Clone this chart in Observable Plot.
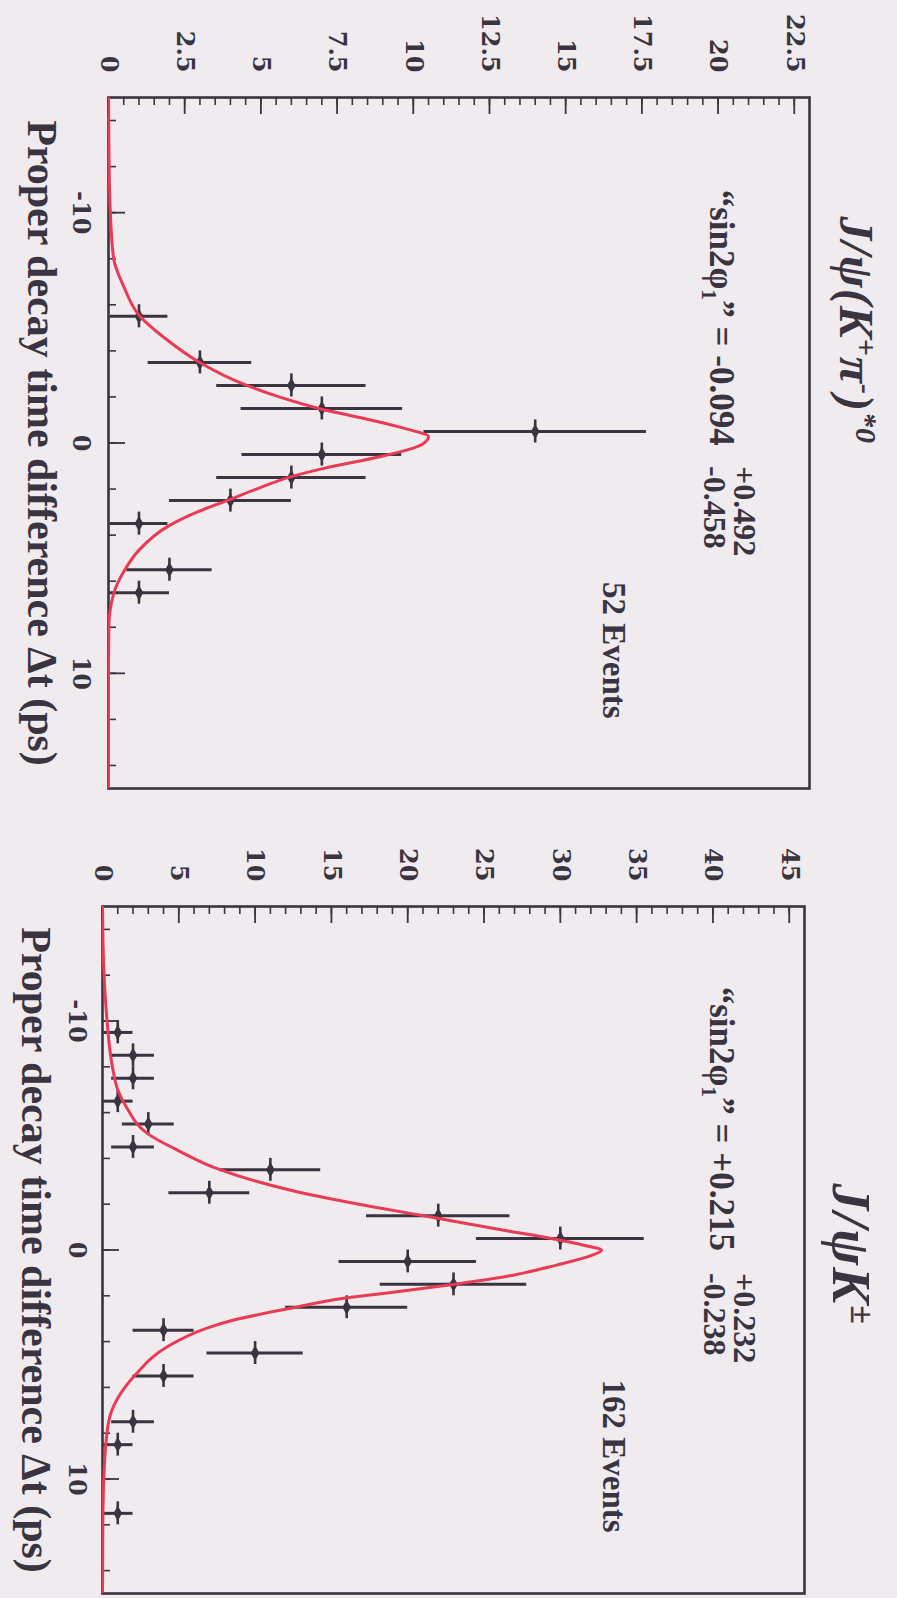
<!DOCTYPE html>
<html>
<head>
<meta charset="utf-8">
<script src="https://cdn.jsdelivr.net/npm/d3@7"></script>
<script src="https://cdn.jsdelivr.net/npm/@observablehq/plot@0.6"></script>
<style>
  html, body { margin: 0; padding: 0; background: #efebef; }
  #chart { width: 897px; height: 1598px; overflow: hidden; }
  #chart svg { display: block; }
</style>
</head>
<body>
<div id="chart"></div>
<script>
// ---------- Panel 1: J/psi (K+ pi-)*0 ----------
const dt1    = [-5.5, -3.5, -2.5, -1.5, -0.5, 0.5, 1.5, 2.5, 3.5, 5.5, 6.5];
const count1 = [1, 3, 6, 7, 14, 7, 6, 4, 1, 2, 1];
const err1   = [0.95, 1.7, 2.45, 2.65, 3.65, 2.62, 2.45, 2.0, 0.95, 1.4, 1.0];
const fitT1  = [-15, -12, -10, -8, -6.8, -5.57, -4.48, -3.53, -2.52, -2.0, -1.5, -1.0, -0.6, -0.28, 0.05, 0.3, 0.6, 1.09, 1.46, 2.0, 2.48, 3.0, 3.64, 4.65, 5.45, 6.54, 8, 10, 15];
const fitC1  = [0, 0.02, 0.06, 0.17, 0.5, 0.99, 1.92, 2.95, 4.5, 5.6, 6.9, 8.6, 9.8, 10.5, 10.3, 9.8, 8.9, 7.1, 6.0, 4.85, 3.93, 2.9, 1.92, 1.0, 0.56, 0.17, 0.01, 0, 0];
const yTicks1  = [0, 2.5, 5, 7.5, 10, 12.5, 15, 17.5, 20, 22.5];
const yLabels1 = ["0", "2.5", "5", "7.5", "10", "12.5", "15", "17.5", "20", "22.5"];

// ---------- Panel 2: J/psi K+- ----------
const dt2    = [-9.5, -8.5, -7.5, -6.5, -5.5, -4.5, -3.5, -2.5, -1.5, -0.5, 0.5, 1.5, 2.5, 3.5, 4.5, 5.5, 7.5, 8.5, 11.5];
const count2 = [1, 2, 2, 1, 3, 2, 11, 7, 22, 30, 20, 23, 16, 4, 10, 4, 2, 1, 1];
const err2   = [1.0, 1.4, 1.4, 1.0, 1.7, 1.4, 3.3, 2.65, 4.7, 5.5, 4.5, 4.8, 4.0, 2.0, 3.15, 2.0, 1.4, 1.0, 1.0];
const fitT2  = [-15, -13, -11.4, -10, -8, -7, -6.2, -5.06, -4.33, -3.53, -2.6, -1.9, -1.43, -0.86, -0.49, -0.2, 0, 0.25, 0.67, 1.1, 1.53, 1.9, 2.11, 2.51, 3.06, 3.42, 4.2, 5.45, 7.48, 9.7, 12, 15];
const fitC2  = [0, 0.05, 0.15, 0.3, 0.65, 1.0, 1.6, 3.0, 5.0, 7.6, 12.4, 17.6, 21.6, 26.3, 29.5, 31.6, 32.7, 32.0, 29.7, 26.9, 22.7, 18.4, 15.8, 12.6, 8.6, 6.8, 4.3, 2.16, 0.41, 0.1, 0.02, 0];
const yTicks2  = [0, 5, 10, 15, 20, 25, 30, 35, 40, 45];
const yLabels2 = ["0", "5", "10", "15", "20", "25", "30", "35", "40", "45"];

// ---------- shared ----------
const tTicks  = [-10, 0, 10];
const tLabels = ["-10", "0", "10"];
const xTitle  = "Proper decay time difference \u0394t (ps)";
const binHalfWidth = 0.5;

const ink = "#3a3340";
const red = "#ea3b55";
const serif = "'Liberation Serif', 'Times New Roman', serif";
const tickFont = "'DejaVu Serif', serif";

function rich(svg, key, parts, spacing) {
  d3.select(svg).selectAll("text").filter(function () { return this.textContent === key; })
    .each(function () {
      const el = d3.select(this);
      el.text("");
      if (spacing) el.attr("letter-spacing", spacing + "px");
      let prev = 0;
      for (const [s, shift, fs] of parts) {
        const sp = el.append("tspan").text(s).attr("dy", (shift - prev) + "px");
        if (fs) sp.attr("font-size", fs + "px");
        prev = shift;
      }
    });
}

function panel(cfg) {
  const rows = cfg.t.map((t, i) => ({t, n: cfg.n[i], e: cfg.err[i]}));
  const fit = cfg.fitT.map((t, i) => ({t, c: cfg.fitC[i]}));
  const W = 897, H = cfg.height;
  const fw = W - cfg.ml - cfg.mr, fh = H - cfg.mt - cfg.mb;
  const cMinor = d3.range(0, cfg.cmax - 1e-9, cfg.minorStep);
  const tMinor = d3.range(-14, 15, 2);
  const txt = {fill: ink, fontFamily: serif, fontWeight: "bold", rotate: 90, lineAnchor: "middle"};
  const svg = Plot.plot({
    width: W, height: H,
    marginTop: cfg.mt, marginBottom: cfg.mb, marginLeft: cfg.ml, marginRight: cfg.mr,
    style: {background: "transparent", overflow: "visible"},
    x: {domain: [0, cfg.cmax], axis: null},
    y: {domain: [-15, 15], reverse: true, axis: null},
    marks: [
      // inward tick marks
      Plot.ruleX(cMinor, {x: d => d, insetBottom: fh - 8, stroke: ink, strokeWidth: 1.6}),
      Plot.ruleX(cfg.yTicks, {x: d => d, insetBottom: fh - 17, stroke: ink, strokeWidth: 1.8}),
      Plot.ruleY(tMinor, {y: d => d, insetRight: fw - 8, stroke: ink, strokeWidth: 1.6}),
      Plot.ruleY(tTicks, {y: d => d, insetRight: fw - 17, stroke: ink, strokeWidth: 1.8}),
      Plot.frame({stroke: ink, strokeWidth: 2.6}),
      // tick labels
      Plot.text(cfg.yTicks, {x: d => d, text: (d, i) => cfg.yLabels[i], frameAnchor: "top", dy: -25,
        textAnchor: "end", ...txt, fontFamily: tickFont, fontSize: 24}),
      Plot.text(tTicks, {y: d => d, text: (d, i) => tLabels[i], frameAnchor: "left", dx: cfg.tLabelDx,
        textAnchor: "middle", ...txt, fontFamily: tickFont, fontSize: 24}),
      Plot.text([xTitle], {y: () => 0, text: d => d, frameAnchor: "left", dx: -67,
        textAnchor: "middle", ...txt, fontSize: 42}),
      // title and annotations
      Plot.text([cfg.title], {y: () => cfg.titleT, text: d => d, frameAnchor: "right", dx: 46,
        textAnchor: "middle", ...txt, fontSize: cfg.titleSize, fontStyle: "italic"}),
      Plot.text([cfg.ann], {y: () => cfg.annT, text: d => d, frameAnchor: "right", dx: cfg.annDx,
        textAnchor: "start", ...txt, fontSize: 35}),
      Plot.text([cfg.sup], {y: () => cfg.supT, text: d => d, frameAnchor: "right", dx: cfg.annDx + 23,
        textAnchor: "start", ...txt, fontSize: 32}),
      Plot.text([cfg.sub], {y: () => cfg.supT, text: d => d, frameAnchor: "right", dx: cfg.annDx - 7,
        textAnchor: "start", ...txt, fontSize: 32}),
      Plot.text([cfg.events], {y: () => cfg.eventsT, text: d => d, frameAnchor: "right", dx: cfg.eventsDx,
        textAnchor: "middle", ...txt, fontSize: 33}),
      // data
      Plot.ruleY(rows, {y: "t", x1: d => Math.max(0, d.n - d.e), x2: d => d.n + d.e, stroke: ink, strokeWidth: 3}),
      Plot.ruleX(rows, {x: "n", y1: d => d.t - binHalfWidth, y2: d => d.t + binHalfWidth, stroke: ink, strokeWidth: 2.6}),
      Plot.dot(rows, {x: "n", y: "t", symbol: "diamond", r: 4.6, fill: ink}),
      Plot.line(fit, {x: "c", y: "t", curve: "monotone-y", stroke: red, strokeWidth: 3, clip: true})
    ]
  });
  for (const [key, parts, spacing] of cfg.richParts) rich(svg, key, parts, spacing);
  return svg;
}

const chart = document.getElementById("chart");

chart.appendChild(panel({
  height: 800, mt: 97, mb: 12, ml: 108, mr: 88, cmax: 23, minorStep: 0.5,
  t: dt1, n: count1, err: err1, fitT: fitT1, fitC: fitC1,
  yTicks: yTicks1, yLabels: yLabels1, tLabelDx: -28,
  title: "TITLE1", titleT: -4.9, titleSize: 48,
  ann: "ANN1", annT: -11.0, annDx: -88,
  sup: "+0.492", sub: "-0.458", supT: 1.0,
  events: "52 Events", eventsT: 9.0, eventsDx: -196,
  richParts: [
    ["TITLE1", [["J/\u03c8(K", 0], ["+", -16, 30], ["\u03c0", 0], ["-", -16, 30], [")", 0], ["*0", -16, 30]], 1],
    ["ANN1", [["\u201csin2\u03c6", 0], ["1", 8, 22], ["\u201d = -0.094", 0]]]
  ]
}));

chart.appendChild(panel({
  height: 798, mt: 106, mb: 5, ml: 102, mr: 93, cmax: 46, minorStep: 1,
  t: dt2, n: count2, err: err2, fitT: fitT2, fitC: fitC2,
  yTicks: yTicks2, yLabels: yLabels2, tLabelDx: -26,
  title: "TITLE2", titleT: 0.2, titleSize: 54,
  ann: "ANN2", annT: -11.5, annDx: -83,
  sup: "+0.232", sub: "-0.238", supT: 1.0,
  events: "162 Events", eventsT: 9.0, eventsDx: -191,
  richParts: [
    ["TITLE2", [["J/\u03c8K", 0], ["\u00b1", -18, 34]], 2],
    ["ANN2", [["\u201csin2\u03c6", 0], ["1", 8, 22], ["\u201d = +0.215", 0]]]
  ]
}));
</script>
</body>
</html>
